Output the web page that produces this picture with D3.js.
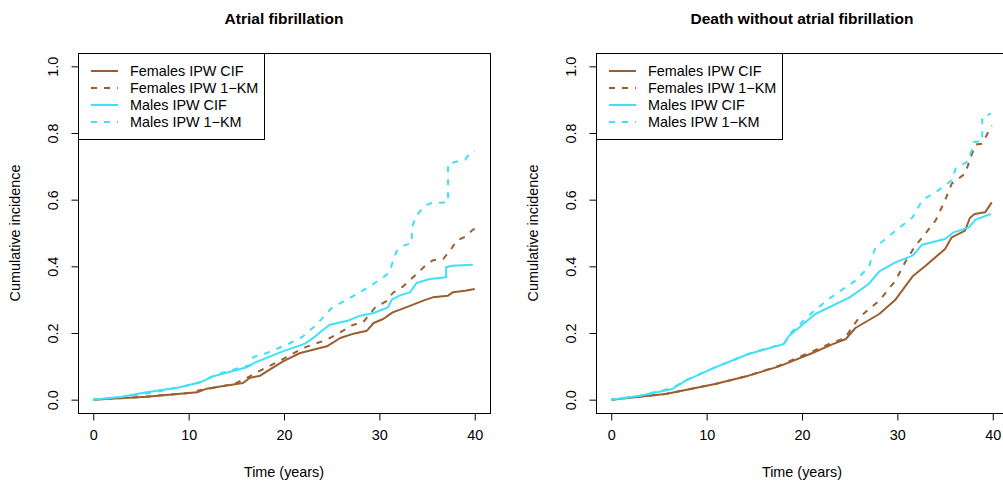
<!DOCTYPE html>
<html>
<head>
<meta charset="utf-8">
<script src="https://cdn.jsdelivr.net/npm/d3@7"></script>
<style>
  html, body { margin: 0; padding: 0; background: #fff; }
  svg { display: block; font-family: "Liberation Sans", Arial, Helvetica, sans-serif; }
</style>
</head>
<body>
<svg id="chart" width="1003" height="487"></svg>
<script>
// ---------- data ----------
const panelTitles = ["Atrial fibrillation", "Death without atrial fibrillation"];
const seriesNames = ["Females IPW CIF", "Females IPW 1\u2212KM", "Males IPW CIF", "Males IPW 1\u2212KM"];
const xTicks = [0, 10, 20, 30, 40];
const yTicks = [0, 0.2, 0.4, 0.6, 0.8, 1.0];

// Panel 1: Atrial fibrillation (time in years, cumulative incidence)
const afFemCIF_t = [0, 5.6, 10.9, 11.9, 13, 15.7, 16.4, 17.5, 18.5, 19.9, 21.7, 24.5, 25.9, 27.3, 28.7, 29.4, 30.4, 31.4, 32.8, 34.6, 35.6, 37.2, 37.7, 39.0, 40];
const afFemCIF_v = [0, 0.009, 0.022, 0.033, 0.038, 0.050, 0.065, 0.072, 0.090, 0.115, 0.140, 0.160, 0.185, 0.198, 0.207, 0.230, 0.242, 0.262, 0.277, 0.297, 0.307, 0.312, 0.322, 0.327, 0.332];

const afFemKM_t = [0, 5, 10, 10.9, 13.5, 15, 16.1, 17.5, 19.6, 22.0, 24.5, 25.9, 27.3, 28.3, 29.5, 30.8, 31.4, 32.5, 33.9, 34.8, 35.6, 36.7, 37.6, 38.1, 39.1, 39.8, 40];
const afFemKM_v = [0, 0.008, 0.020, 0.027, 0.040, 0.050, 0.065, 0.087, 0.117, 0.155, 0.180, 0.202, 0.225, 0.232, 0.275, 0.297, 0.320, 0.340, 0.377, 0.402, 0.418, 0.422, 0.455, 0.477, 0.490, 0.510, 0.512];

const afMalCIF_t = [0, 3, 5.6, 9.1, 11.2, 12.6, 16.1, 17.0, 19.6, 22.2, 23.3, 23.9, 24.8, 26.7, 28.0, 29.4, 30.9, 31.3, 32.1, 33.2, 33.9, 35.3, 37.0, 37.0, 37.6, 39.8];
const afMalCIF_v = [0, 0.009, 0.022, 0.037, 0.052, 0.070, 0.097, 0.112, 0.142, 0.168, 0.190, 0.205, 0.225, 0.237, 0.252, 0.260, 0.277, 0.300, 0.312, 0.322, 0.350, 0.362, 0.367, 0.397, 0.402, 0.405];

const afMalKM_t = [0, 3, 6, 9, 11, 12.6, 14, 16.6, 16.8, 18.2, 20.3, 22.0, 23.4, 25.0, 25.4, 26.9, 29.0, 30.3, 31.0, 31.8, 32.5, 33.4, 33.4, 33.9, 34.8, 35.5, 37.2, 37.2, 38.4, 39.0, 39.5, 40];
const afMalKM_v = [0, 0.008, 0.020, 0.037, 0.050, 0.072, 0.085, 0.105, 0.128, 0.140, 0.165, 0.190, 0.225, 0.275, 0.282, 0.305, 0.340, 0.365, 0.380, 0.445, 0.462, 0.470, 0.517, 0.553, 0.583, 0.590, 0.592, 0.708, 0.716, 0.720, 0.740, 0.745];

// Panel 2: Death without atrial fibrillation
const dFemCIF_t = [0, 5.7, 10.9, 14.4, 17.6, 21.1, 23.1, 24.6, 25.6, 28.1, 29.8, 31.6, 32.9, 35.0, 35.7, 37.1, 37.6, 38.1, 39.2, 39.9];
const dFemCIF_v = [0, 0.017, 0.047, 0.072, 0.100, 0.140, 0.165, 0.182, 0.215, 0.257, 0.300, 0.370, 0.400, 0.452, 0.487, 0.507, 0.545, 0.557, 0.562, 0.592];

const dFemKM_t = [0, 5.7, 10.9, 14.4, 17.6, 21.1, 23.1, 24.5, 26.0, 28.1, 29.8, 30.9, 31.9, 32.9, 34.0, 35.0, 35.7, 37.1, 37.7, 38.2, 38.9, 39.3, 39.9];
const dFemKM_v = [0, 0.017, 0.047, 0.072, 0.102, 0.145, 0.170, 0.185, 0.247, 0.297, 0.357, 0.417, 0.462, 0.497, 0.537, 0.598, 0.648, 0.678, 0.728, 0.765, 0.768, 0.790, 0.822];

const dMalCIF_t = [0, 3, 6.4, 7.8, 10.9, 14.4, 18.1, 18.6, 21.4, 25.0, 27.0, 28.1, 29.8, 31.6, 32.6, 35.0, 35.9, 37.5, 38.2, 39.8];
const dMalCIF_v = [0, 0.012, 0.032, 0.057, 0.097, 0.137, 0.167, 0.190, 0.257, 0.307, 0.347, 0.385, 0.412, 0.432, 0.465, 0.482, 0.502, 0.517, 0.540, 0.557];

const dMalKM_t = [0, 3, 6.4, 7.8, 10.9, 14.4, 18.1, 18.3, 18.8, 21.1, 22.8, 25.6, 27.0, 27.7, 29.8, 31.6, 32.6, 34.3, 35.7, 36.1, 37.3, 37.8, 38.0, 38.9, 38.9, 39.8];
const dMalKM_v = [0, 0.012, 0.035, 0.058, 0.097, 0.138, 0.168, 0.175, 0.200, 0.262, 0.302, 0.357, 0.397, 0.457, 0.507, 0.547, 0.598, 0.628, 0.658, 0.693, 0.713, 0.748, 0.773, 0.775, 0.848, 0.858];

const seriesColors = ["#9b5e30", "#9b5e30", "#3fe0f8", "#3fe0f8"];
const seriesDash = [null, "6,7", null, "6,7"];

// ---------- build ----------
const panelData = [
  [[afFemCIF_t, afFemCIF_v], [afFemKM_t, afFemKM_v], [afMalCIF_t, afMalCIF_v], [afMalKM_t, afMalKM_v]],
  [[dFemCIF_t, dFemCIF_v], [dFemKM_t, dFemKM_v], [dMalCIF_t, dMalCIF_v], [dMalKM_t, dMalKM_v]]
];
const panelLeft = [78, 596];
const plotW = 412, plotTop = 53, plotBottom = 413;
const fs = 14.4;

const svg = d3.select("#chart");

panelData.forEach((series, pi) => {
  const L = panelLeft[pi];
  const x = d3.scaleLinear().domain([-1.6, 41.6]).range([L, L + plotW]);
  const y = d3.scaleLinear().domain([-0.04, 1.04]).range([plotBottom, plotTop]);
  const g = svg.append("g");

  const clipId = "clip" + pi;
  svg.append("clipPath").attr("id", clipId).append("rect")
    .attr("x", L).attr("y", plotTop).attr("width", plotW).attr("height", plotBottom - plotTop);

  // curves
  const line = d3.line().x(d => x(d[0])).y(d => y(d[1])).curve(d3.curveLinear);
  series.forEach((s, si) => {
    const pts = s[0].map((t, i) => [t, s[1][i]]);
    g.append("path")
      .attr("clip-path", `url(#${clipId})`)
      .attr("d", line(pts))
      .attr("fill", "none")
      .attr("stroke", seriesColors[si])
      .attr("stroke-width", 2)
      .attr("stroke-linejoin", "round")
      .attr("stroke-dasharray", seriesDash[si]);
  });

  // box
  g.append("rect")
    .attr("x", L + 0.5).attr("y", plotTop + 0.5)
    .attr("width", plotW).attr("height", plotBottom - plotTop)
    .attr("fill", "none").attr("stroke", "#000").attr("stroke-width", 1);

  // x axis
  const xa = g.append("g").attr("transform", `translate(0,${plotBottom + 0.5})`)
    .call(d3.axisBottom(x).tickValues(xTicks).tickSize(7).tickPadding(9).tickFormat(d3.format("d")));
  xa.select(".domain").attr("d", `M${x(0)},0H${x(40)}`).attr("stroke", "#000");
  xa.selectAll(".tick line").attr("stroke", "#000");
  xa.selectAll("text").attr("font-size", fs).attr("fill", "#000").attr("font-family", null);

  // y axis
  const ya = g.append("g").attr("transform", `translate(${L + 0.5},0)`)
    .call(d3.axisLeft(y).tickValues(yTicks).tickSize(7).tickFormat(d3.format(".1f")));
  ya.select(".domain").attr("d", `M0,${y(0)}V${y(1)}`).attr("stroke", "#000");
  ya.selectAll(".tick line").attr("stroke", "#000");
  ya.selectAll("text")
    .attr("font-size", fs).attr("fill", "#000").attr("font-family", null)
    .attr("text-anchor", "middle").attr("dy", null).attr("x", null)
    .attr("dominant-baseline", "central")
    .attr("transform", "translate(-26,0) rotate(-90)");

  // axis titles
  g.append("text").attr("x", x(20)).attr("y", 477)
    .attr("text-anchor", "middle").attr("font-size", fs).text("Time (years)");
  g.append("text")
    .attr("transform", `translate(${L - 58},${(plotTop + plotBottom) / 2}) rotate(-90)`)
    .attr("text-anchor", "middle").attr("font-size", fs).text("Cumulative incidence");

  // title
  g.append("text").attr("x", L + plotW / 2).attr("y", 24)
    .attr("text-anchor", "middle").attr("font-size", 15.5).attr("font-weight", "bold")
    .text(panelTitles[pi]);

  // legend
  const lg = g.append("g");
  const lw = 186, lh = 86;
  lg.append("rect").attr("x", L + 0.5).attr("y", plotTop + 0.5).attr("width", lw).attr("height", lh)
    .attr("fill", "#fff").attr("stroke", "#000").attr("stroke-width", 1);
  seriesNames.forEach((nm, si) => {
    const yy = plotTop + 18 + si * 17;
    lg.append("line").attr("x1", L + 13).attr("x2", L + 40).attr("y1", yy).attr("y2", yy)
      .attr("stroke", seriesColors[si]).attr("stroke-width", 2)
      .attr("stroke-dasharray", seriesDash[si]);
    lg.append("text").attr("x", L + 52).attr("y", yy).attr("dominant-baseline", "central")
      .attr("font-size", fs).text(nm);
  });
});
</script>
</body>
</html>
